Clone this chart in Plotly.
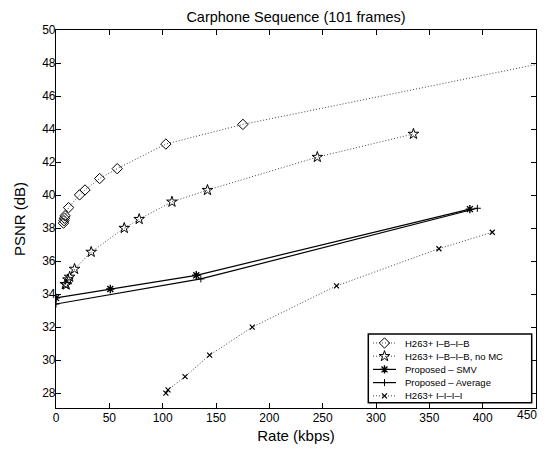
import plotly.graph_objects as go

# H263+ I-B-I-B
ibib_rate = [7.0, 7.5, 8.0, 8.5, 11.8, 22.1, 27.2, 40.9, 57.4, 103.0, 175.2, 500.0]
ibib_psnr = [38.3, 38.45, 38.6, 38.75, 39.24, 40.01, 40.31, 41.0, 41.6, 43.09, 44.28, 48.57]

# H263+ I-B-I-B, no MC
nomc_rate = [8.7, 9.6, 11.2, 12.8, 17.4, 33.0, 64.0, 78.0, 108.7, 142.0, 245.0, 335.1]
nomc_psnr = [34.6, 34.57, 34.88, 35.04, 35.52, 36.55, 38.0, 38.54, 39.59, 40.3, 42.3, 43.7]

# Proposed - SMV
smv_rate = [0.0, 50.9, 131.5, 388.0]
smv_psnr = [33.77, 34.31, 35.14, 39.15]

# Proposed - Average
avg_rate = [0.0, 135.8, 395.0]
avg_psnr = [33.4, 34.92, 39.2]

# H263+ I-I-I-I
iiii_rate = [103.0, 105.0, 121.0, 144.0, 184.0, 263.0, 359.0, 409.0]
iiii_psnr = [28.0, 28.2, 29.0, 30.3, 32.0, 34.5, 36.75, 37.75]

series_names = ["H263+ I\u2013B\u2013I\u2013B", "H263+ I\u2013B\u2013I\u2013B, no MC", "Proposed \u2013 SMV",
                "Proposed \u2013 Average", "H263+ I\u2013I\u2013I\u2013I"]

x_ticks = [0, 50, 100, 150, 200, 250, 300, 350, 400, 450]
x_tick_labels = [str(v) for v in x_ticks]
y_ticks = [28, 30, 32, 34, 36, 38, 40, 42, 44, 46, 48, 50]

FONT = "Liberation Sans, Arial, Helvetica"
dot = dict(color="#444444", width=1, dash="1px,2px")
solid = dict(color="black", width=1.2)

markers = [
    dict(symbol="diamond-open", size=8, color="black", line=dict(width=1)),
    dict(symbol="star-open", size=8, color="black", line=dict(width=1)),
    dict(symbol="asterisk-open", size=7, color="black", line=dict(width=1.4)),
    dict(symbol="cross-thin-open", size=5, color="black", line=dict(width=1)),
    dict(symbol="x-thin-open", size=5, color="black", line=dict(width=1.2)),
]
lines = [dot, dot, solid, solid, dot]
data = [(ibib_rate, ibib_psnr), (nomc_rate, nomc_psnr), (smv_rate, smv_psnr),
        (avg_rate, avg_psnr), (iiii_rate, iiii_psnr)]

fig = go.Figure()
for (xr, yp), nm, ln, mk in zip(data, series_names, lines, markers):
    fig.add_trace(go.Scatter(x=xr, y=yp, mode="lines+markers", name=nm, line=ln, marker=mk,
                             showlegend=False, cliponaxis=True))

# page has an 8px body margin on every side: keep the page exactly window-sized
OFF = 8
W, H = 547 - OFF, 452 - 2 * OFF
# plot area in window pixels
L, R, T, B = 56, 536, 30, 408

# custom compact legend drawn in a window-pixel overlay axis
box = dict(x0=368.3, x1=531.7, y0=334.0, y1=402.7)
row0, row_step = 343.0, 13.2
for i, (nm, ln, mk) in enumerate(zip(series_names, lines, markers)):
    yy = row0 + i * row_step
    fig.add_trace(go.Scatter(x=[373, 396], y=[yy, yy], mode="lines", line=ln, xaxis="x2", yaxis="y2",
                             showlegend=False, hoverinfo="skip"))
    fig.add_trace(go.Scatter(x=[384.5], y=[yy], mode="markers", marker=mk, xaxis="x2", yaxis="y2",
                             showlegend=False, hoverinfo="skip"))
    fig.add_annotation(x=402.5, y=yy, xref="x2", yref="y2", text=nm, showarrow=False,
                       xanchor="left", yanchor="middle", font=dict(family=FONT, size=9.5, color="black"))
fig.add_shape(type="rect", xref="x2", yref="y2", **box, line=dict(color="black", width=1.5),
              fillcolor="white", layer="below")

# last x tick label would be clipped at the page edge: draw it right-aligned at the plot edge
shown_labels = x_tick_labels[:-1] + [""]
fig.add_annotation(x=1, y=0, xref="paper", yref="paper", text=x_tick_labels[-1], showarrow=False,
                   xanchor="right", yanchor="middle", xshift=3, yshift=-7,
                   font=dict(family=FONT, size=12, color="black"))

axis_common = dict(showgrid=False, zeroline=False, showline=True, linecolor="black", linewidth=1.2,
                   mirror="ticks", ticks="inside", ticklen=5, tickcolor="black", tickwidth=1,
                   automargin=False, tickfont=dict(family=FONT, size=12, color="black"))

fig.update_layout(
    width=W, height=H,
    margin=dict(l=L - OFF, r=547 - R, t=T - OFF, b=(OFF + H) - B, pad=0),
    paper_bgcolor="white", plot_bgcolor="white",
    title=dict(text="Carphone Sequence (101 frames)", xref="paper", x=0.5, xanchor="center",
               yref="container", y=1 - (16.5 - OFF) / H, yanchor="middle",
               font=dict(family=FONT, size=14.5, color="black")),
    xaxis=dict(range=[0, 450], tickvals=x_ticks, ticktext=shown_labels, ticklabelstandoff=-2,
               title=dict(text="Rate (kbps)", standoff=7, font=dict(family=FONT, size=15, color="black")),
               **axis_common),
    yaxis=dict(range=[27.1, 50], tickvals=y_ticks, ticklabelstandoff=-3,
               title=dict(text="PSNR (dB)", standoff=12, font=dict(family=FONT, size=15, color="black")),
               **axis_common),
    xaxis2=dict(overlaying="x", anchor="y2", range=[L, R], visible=False, fixedrange=True),
    yaxis2=dict(overlaying="y", anchor="x2", range=[B, T], visible=False, fixedrange=True),
    showlegend=False,
)

fig.write_html("out.html")
